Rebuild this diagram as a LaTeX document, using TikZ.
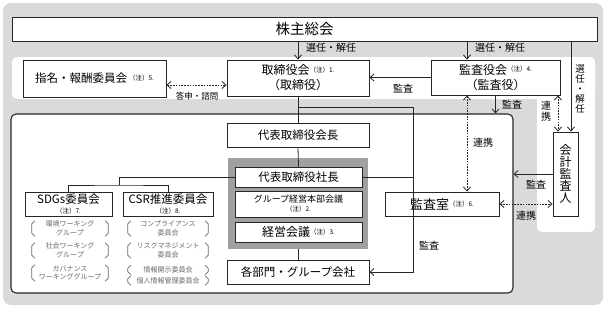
\documentclass[tikz,border=0pt]{standalone}
\usepackage{fontspec}
\setmainfont{Noto Sans CJK JP}
\usetikzlibrary{arrows.meta}
\definecolor{bggray}{RGB}{218,218,218}
\definecolor{exgray}{RGB}{160,160,160}
\definecolor{itemgray}{RGB}{105,105,105}
% notes: raised after a label, or on a line of their own
\newcommand{\chu}[1]{\raisebox{2.5pt}{\fontsize{6.5}{7}\selectfont（注）#1}}
\newcommand{\chub}[1]{{\fontsize{6.5}{7}\selectfont（注）#1}}

\begin{document}
\begin{tikzpicture}[x=1pt, y=-1pt,
    >={Straight Barb[length=4pt,width=7pt]},
    box/.style={draw=black!85, fill=white, line width=0.9pt, inner sep=0pt, align=center},
    conn/.style={draw=black!85, line width=0.8pt},
    link/.style={conn, dash pattern=on 1.6pt off 1.2pt},
    tag/.style={font=\fontsize{10}{11}\selectfont, inner sep=0pt, align=center},
    item/.style={text=itemgray, font=\fontsize{7}{8.5}\selectfont, align=center, inner sep=0pt},
    brk/.style={draw=itemgray, line width=0.7pt},
  ]
  \useasboundingbox (0,0) rectangle (606,311);

  %% backdrop: grey sheet, white band for the boards, white column for the auditor
  \fill[bggray, rounded corners=8pt] (3,3) rectangle (603,305);
  \fill[white, rounded corners=5pt] (12,57) rectangle (595,99);
  \fill[white, rounded corners=5pt] (537,57) rectangle (595,232);
  \node[box, line width=1.1pt, rounded corners=5pt, minimum width=502, minimum height=179] (corp) at (262,203.5) {};

  %% boards
  \node[box, minimum width=585, minimum height=24, font=\fontsize{14.5}{16}\selectfont] (share) at (304.5,29) {株主総会};
  \node[box, minimum width=143, minimum height=37, font=\fontsize{11.5}{13}\selectfont] (nomi) at (94.5,78.5) {指名・報酬委員会\,\chu{5.}};
  \node[box, minimum width=142, minimum height=36, font=\fontsize{12}{15}\selectfont] (board) at (298,78) {取締役会\chu{1.}\\（取締役）};
  \node[box, minimum width=129, minimum height=35, font=\fontsize{12}{15}\selectfont] (kansa) at (495.5,77.5) {監査役会\chu{4.}\\（監査役）};
  \node[box, minimum width=25, minimum height=84, font=\fontsize{12}{12}\selectfont] (acct) at (565.5,174) {会\\計\\監\\査\\人};

  %% execution
  \node[box, minimum width=142, minimum height=24, font=\fontsize{11.5}{13}\selectfont] (chair) at (298,135) {代表取締役会長};
  \node[fill=exgray, minimum width=140, minimum height=91, inner sep=0pt] (exec) at (298,203.5) {};
  \node[box, minimum width=127, minimum height=20, font=\fontsize{11.5}{13}\selectfont] (pres) at (298.5,177) {代表取締役社長};
  \node[box, minimum width=127, minimum height=26, font=\fontsize{9}{10}\selectfont] (ghq) at (298.5,204) {グループ経営本部会議\\[-1pt]\chub{2.}};
  \node[box, minimum width=127, minimum height=20, font=\fontsize{12}{13}\selectfont] (mgmt) at (298.5,232) {経営会議\chu{3.}};
  \node[box, minimum width=142, minimum height=24, font=\fontsize{11.5}{13}\selectfont] (depts) at (298,272) {各部門・グループ会社};
  \node[box, minimum width=114, minimum height=24, font=\fontsize{13}{14}\selectfont] (audit) at (442,204) {監査室\chu{6.}};

  %% committees
  \node[box, minimum width=87, minimum height=24, font=\fontsize{11.5}{13}\selectfont] (sdgs) at (68.5,204) {SDGs委員会\\[-3pt]\chub{7.}};
  \node[box, minimum width=90, minimum height=24, font=\fontsize{11.5}{13}\selectfont] (csr) at (168,204) {CSR推進委員会\\[-3pt]\chub{8.}};

  \foreach \n/\x/\y/\w/\h/\t in {
      sa/70/228.5/76/15/{環境ワーキング\\グループ},
      sb/70/250.5/76/15/{社会ワーキング\\グループ},
      sc/70/273/76/16/{ガバナンス\\ワーキンググループ},
      ca/168/228.5/80/15/{コンプライアンス\\委員会},
      cb/168/250.5/80/15/{リスクマネジメント\\委員会},
      cc/168/270/80/9/{情報開示委員会},
      cd/168/280.5/80/9/{個人情報管理委員会}} {
    \node[item, minimum width=\w, minimum height=\h] (\n) at (\x,\y) {\t};
    \draw[brk] (\n.north west) ++(3,0) -- ++(-3,3) -- ([yshift=3pt]\n.south west) -- ++(3,3);
    \draw[brk] (\n.north east) ++(-3,0) -- ++(3,3) -- ([yshift=3pt]\n.south east) -- ++(-3,3);
  }

  %% connectors
  \coordinate (kcol) at (467,0);
  \coordinate (acol) at (571,0);
  \coordinate (lcol) at (558,0);
  \coordinate (nrow) at (0,85);
  \coordinate (rcol) at (413,107);
  \coordinate (split) at (119,185);

  \draw[conn,->] (share.south -| board.north) -- (board.north);
  \draw[conn,->] (share.south -| kcol) -- (kansa.north -| kcol);
  \draw[conn,->] (share.south -| acol) -- (acct.north -| acol);
  \draw[link,<->] (nrow -| nomi.east) -- (nrow -| board.west);
  \draw[conn,->] (kansa.west) -- (kansa.west -| board.east);
  \draw[conn,->] (kansa.south) -- (corp.north -| kansa.south);
  \draw[link,<->] (kansa.south -| lcol) -- (acct.north -| lcol);
  \draw[link,<->] (kansa.south -| kcol) -- (audit.north -| kcol);
  \draw[conn,->] (acct.west) -- (acct.west -| corp.east);
  \draw[link,<->] (audit.east) -- (audit.east -| acct.west);

  \draw[conn] (board.south) -- (chair.north);
  \draw[conn] (chair.south) -- (pres.north);
  \draw[conn] (exec.south) -- (depts.north);
  % audit line of the board down to the departments
  \draw[conn,->] (board.south |- rcol) -- (rcol) -- (rcol |- depts.east) -- (depts.east);
  \draw[conn] (pres.east) -- (pres.east -| rcol);
  \draw[conn] (pres.west) -| (split);
  \draw[conn] (sdgs.north) |- (split) -| (csr.north);

  %% labels
  \node[tag] (elect1) at (331,48) {選任・解任};
  \node[tag] (elect2) at (500,48) {選任・解任};
  \node[tag, font=\fontsize{9.5}{10}\selectfont] (elect3) at (580,89) {選\\任\\・\\解\\任};
  \node[tag, font=\fontsize{8.5}{9}\selectfont] (advise) at (197,96) {答申・諮問};
  \node[tag] (aud1) at (403,89) {監査};
  \node[tag] (aud2) at (512,105) {監査};
  \node[tag, font=\fontsize{10}{11}\selectfont] (coop1) at (546,111) {連\\携};
  \node[tag] (coop2) at (483,143) {連携};
  \node[tag] (aud3) at (536,185) {監査};
  \node[tag] (coop3) at (526,216) {連携};
  \node[tag] (aud4) at (429,246) {監査};

\end{tikzpicture}
\end{document}
